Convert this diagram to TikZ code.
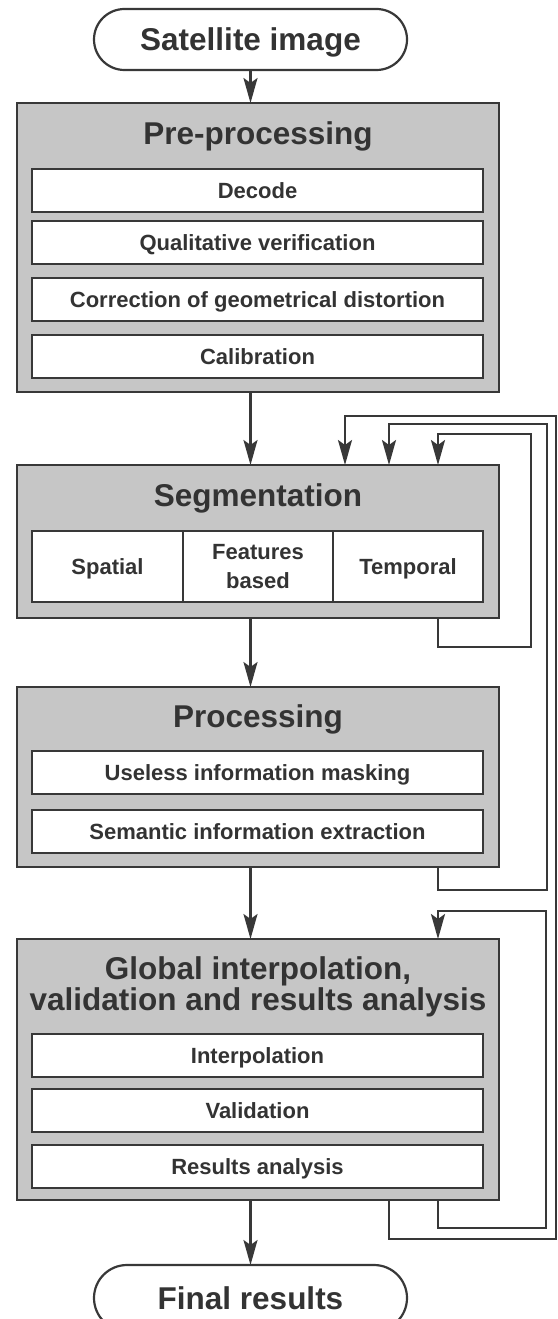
\documentclass[tikz,border=0pt]{standalone}
\usepackage{fontspec}
\setmainfont{Liberation Sans}
\usetikzlibrary{arrows.meta,shapes.misc,calc}
\definecolor{inkc}{HTML}{383838}
\definecolor{panel}{HTML}{C6C6C6}
\definecolor{txt}{HTML}{333333}

\begin{document}
\begin{tikzpicture}[x=1pt,y=-1pt,
  stage/.style={draw=inkc,fill=panel,line width=2.7pt,inner sep=0pt,outer sep=0pt,
    minimum width=482pt,anchor=north west},
  itembox/.style={draw=inkc,fill=white,line width=2.5pt,inner sep=0pt,outer sep=0pt,
    minimum width=451pt,minimum height=43pt,anchor=north west,text=txt,
    font=\bfseries\fontsize{22}{29}\selectfont},
  capline/.style={text height=15.8pt,text depth=0pt},
  cell/.style={itembox,minimum height=71pt,align=center},
  term/.style={rounded rectangle,draw=inkc,fill=white,line width=2.2pt,inner sep=0pt,
    outer sep=0pt,minimum width=313pt,minimum height=61pt,anchor=north,text=txt,
    font=\bfseries\fontsize{31.5}{34}\selectfont,text height=22.5pt,text depth=0pt},
  ttl/.style={anchor=base,text=txt,inner sep=0pt,
    font=\bfseries\fontsize{31.5}{34}\selectfont},
  flow/.style={draw=inkc,line width=2.2pt,
    -{Stealth[length=25pt 0,width=14pt 0,inset=5pt 0]}}
]
\useasboundingbox (0,0) rectangle (557,1319);
\clip (0,0) rectangle (557,1319);
\fill[white] (0,0) rectangle (557,1319);

% start / end terminals
\node[term] (sat) at (250.5,9) {Satellite image};
\node[term,minimum height=66pt] (fin) at (250.5,1265) {Final results};

% stage panels
\node[stage,minimum height=289pt] (pre)  at (17,103) {};
\node[stage,minimum height=153pt] (seg)  at (17,465) {};
\node[stage,minimum height=180pt] (proc) at (17,687) {};
\node[stage,minimum height=261pt] (glob) at (17,939) {};

% stage titles
\node[ttl] (pret)  at (258,144) {Pre-processing};
\node[ttl] (segt)  at (258,506) {Segmentation};
\node[ttl] (proct) at (258,727) {Processing};
\node[ttl] (globt) at (258,979) {Global interpolation,};
\node[ttl] (globu) at (258,1010) {validation and results analysis};

% pre-processing steps
\node[itembox,capline] (dec) at (32,169) {Decode};
\node[itembox,capline] (qv)  at (32,221) {Qualitative verification};
\node[itembox,capline] (cgd) at (32,278) {Correction of geometrical distortion};
\node[itembox,capline] (cal) at (32,335) {Calibration};

% segmentation kinds
\node[cell,capline,minimum width=151pt] (spa) at (32,531) {Spatial};
\node[cell,minimum width=150pt] (fea) at (183,531) {Features\\based};
\node[cell,capline,minimum width=150pt] (tem) at (333,531) {Temporal};

% processing steps
\node[itembox,capline] (uim) at (32,751) {Useless information masking};
\node[itembox,capline] (sie) at (32,810) {Semantic information extraction};

% global steps
\node[itembox,capline] (ipo) at (32,1034) {Interpolation};
\node[itembox,capline] (val) at (32,1089) {Validation};
\node[itembox,capline] (res) at (32,1145) {Results analysis};

% main flow
\draw[flow] (sat.south) -- (sat.south |- pre.north);
\draw[flow] (pre.south -| sat.south) -- (seg.north -| sat.south);
\draw[flow] (seg.south -| sat.south) -- (proc.north -| sat.south);
\draw[flow] (proc.south -| sat.south) -- (glob.north -| sat.south);
\draw[flow] (glob.south -| fin.north) -- (fin.north);

% feedback lanes
\coordinate (laneA) at (531,434);
\coordinate (laneB) at (547,424);
\coordinate (laneC) at (556,416);
\coordinate (laneD) at (546,911);

\draw[flow] ($(seg.south west)+(421,0)$) -- ++(0,29) -| (laneA) -| ($(seg.north west)+(421,0)$);
\draw[flow] ($(proc.south west)+(421,0)$) -- ++(0,23) -| (laneB) -| ($(seg.north west)+(372,0)$);
\draw[flow] ($(glob.south west)+(372,0)$) -- ++(0,39) -| (laneC) -| ($(seg.north west)+(328,0)$);
\draw[flow] ($(glob.south west)+(421,0)$) -- ++(0,28) -| (laneD) -| ($(glob.north west)+(421,0)$);
\end{tikzpicture}
\end{document}
